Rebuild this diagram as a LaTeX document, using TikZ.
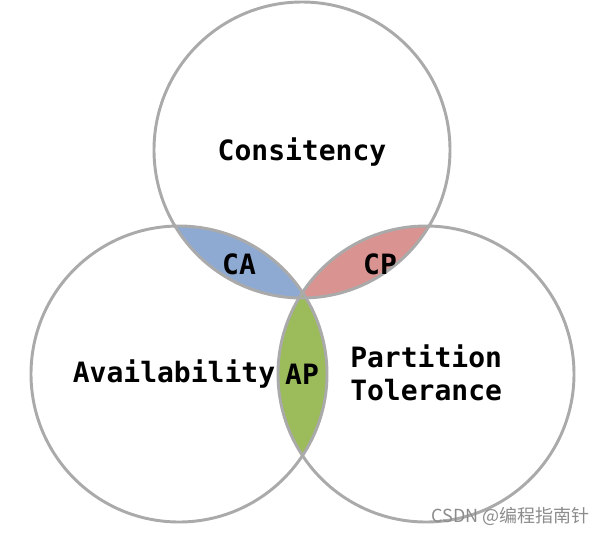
\documentclass[tikz,border=0pt]{standalone}
\usepackage{fontspec}
\setmonofont{DejaVu Sans Mono}
\newfontfamily\cjkfont{Noto Sans CJK SC}
\definecolor{ringgray}{HTML}{AAAAAA}
\definecolor{cablue}{HTML}{8FAAD2}
\definecolor{cpred}{HTML}{D99492}
\definecolor{apgreen}{HTML}{9CBB5A}
\tikzset{
  ring/.style={draw=ringgray, line width=2.2pt},
  lbl/.style={font=\ttfamily\bfseries\fontsize{21}{25}\selectfont, text=black, inner sep=0pt},
}
\begin{document}
\begin{tikzpicture}[x=0.75pt,y=-0.75pt]
\useasboundingbox (0,0) rectangle (604,533);
\fill[white] (0,0) rectangle (604,533);
\coordinate (cT) at (302,150);
\coordinate (cL) at (179,374);
\coordinate (cR) at (426,374);
% lenses
\begin{scope}
  \clip (cT) circle (148);
  \fill[cablue] (cL) circle (148);
  \fill[cpred] (cR) circle (148);
\end{scope}
\begin{scope}
  \clip (cL) circle (148);
  \fill[apgreen] (cR) circle (148);
\end{scope}
% rings
\draw[ring] (cT) circle (148);
\draw[ring] (cL) circle (148);
\draw[ring] (cR) circle (148);
% labels
\node[lbl] (cons) at (302,152) {Consitency};
\node[lbl] (ca) at (239,264) {CA};
\node[lbl] (cp) at (380,264) {CP};
\node[lbl] (ap) at (302,374) {AP};
\node[lbl] (avail) at (174,374) {Availability};
\node[lbl, align=left, anchor=west] (part) at (350,373) {Partition\\[0pt]Tolerance};
\node[font=\cjkfont\fontsize{13.5}{15}\selectfont, text=black!45, anchor=east, inner sep=0pt] (wm) at (590,516) {CSDN @编程指南针};
\end{tikzpicture}
\end{document}
